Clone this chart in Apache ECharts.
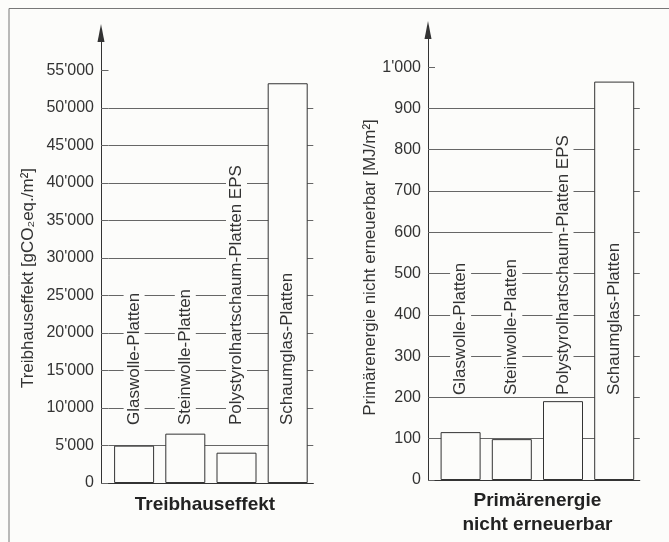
<!DOCTYPE html>
<html>
<head>
    <meta charset="utf-8">
    <title>Treibhauseffekt / Primärenergie</title>
    <script src="https://cdn.jsdelivr.net/npm/echarts@6/dist/echarts.min.js"></script>
    <style>
        html, body { margin: 0; padding: 0; background: #fcfcfa; }
        #chart { width: 669px; height: 542px; }
    </style>
</head>
<body>
<div id="chart"></div>
<script type="text/javascript">
    // Daten
    var categories = ['Glaswolle-Platten', 'Steinwolle-Platten', 'Polystyrolhartschaum-Platten EPS', 'Schaumglas-Platten'];
    var ghgValues = [4980, 6580, 4040, 53300];   // gCO2eq./m2
    var peValues = [116, 99, 191, 965];           // MJ/m2
    var ghgTicks = [0, 5000, 10000, 15000, 20000, 25000, 30000, 35000, 40000, 45000, 50000, 55000];
    var peTicks = [0, 100, 200, 300, 400, 500, 600, 700, 800, 900, 1000];

    var bg = '#fcfcfa';
    var ink = '#333';
    var gridInk = '#666';
    var font = '"Liberation Sans", Arial, sans-serif';

    function fmt(v) {
        return String(v).replace(/\B(?=(\d{3})+(?!\d))/g, "'");
    }

    function yAxis(idx, max, step, ticks, offset, name, gap, pad) {
        return {
            gridIndex: idx,
            type: 'value',
            min: 0,
            max: max,
            interval: step,
            offset: offset,
            name: name,
            nameLocation: 'middle',
            nameGap: gap,
            nameTextStyle: {color: ink, fontSize: 17, fontFamily: font, padding: pad},
            axisLine: {show: true, symbol: ['none', 'triangle'], symbolSize: [7, 18],
                lineStyle: {color: ink, width: 1}},
            axisTick: {show: true, inside: true, length: offset, customValues: ticks,
                lineStyle: {color: gridInk, width: 1}},
            axisLabel: {customValues: ticks, margin: 7, color: ink, fontSize: 16, fontFamily: font,
                formatter: fmt},
            splitLine: {show: true, showMaxLine: false, lineStyle: {color: gridInk, width: 1}}
        };
    }

    function xAxis(idx, margin, name, gap, pad, lh) {
        return {
            gridIndex: idx,
            type: 'category',
            data: categories,
            z: 5,
            name: name,
            nameLocation: 'middle',
            nameGap: gap,
            nameTextStyle: {color: '#222', fontSize: 19, fontWeight: 'bold', fontFamily: font,
                lineHeight: lh, padding: pad},
            axisLine: {lineStyle: {color: ink, width: 1}},
            axisTick: {show: false},
            axisLabel: {inside: true, rotate: 90, interval: 0, margin: margin, color: ink,
                fontSize: 17, fontFamily: font, backgroundColor: bg, padding: [2, 0]}
        };
    }

    var myChart = echarts.init(document.getElementById('chart'));
    myChart.setOption({
        backgroundColor: bg,
        animation: false,
        graphic: [{
            type: 'polyline',
            shape: {points: [[9, 542], [9, 8.5], [669, 8.5]]},
            style: {stroke: '#777', lineWidth: 1, fill: null}
        }],
        grid: [
            {left: 108.5, width: 204.8, top: 33, height: 450},
            {left: 435, width: 204.8, top: 30, height: 450.3}
        ],
        xAxis: [
            xAxis(0, 58, 'Treibhauseffekt', 11, [0, 12, 0, 0], 22),
            xAxis(1, 85, 'Primärenergie\nnicht erneuerbar', 9, [0, 0, 0, 0], 24)
        ],
        yAxis: [
            yAxis(0, 60000, 5000, ghgTicks, 7.5, 'Treibhauseffekt [gCO₂eq./m²]', 64, [0, 40, 0, 0]),
            yAxis(1, 1090, 100, peTicks, 7, 'Primärenergie nicht erneuerbar [MJ/m²]', 41, [0, 25, 0, 0])
        ],
        series: [{
            type: 'bar',
            xAxisIndex: 0,
            yAxisIndex: 0,
            data: ghgValues,
            barWidth: 40,
            itemStyle: {color: bg, borderColor: ink, borderWidth: 1}
        }, {
            type: 'bar',
            xAxisIndex: 1,
            yAxisIndex: 1,
            data: peValues,
            barWidth: 40,
            itemStyle: {color: bg, borderColor: ink, borderWidth: 1}
        }]
    });
</script>
</body>
</html>
